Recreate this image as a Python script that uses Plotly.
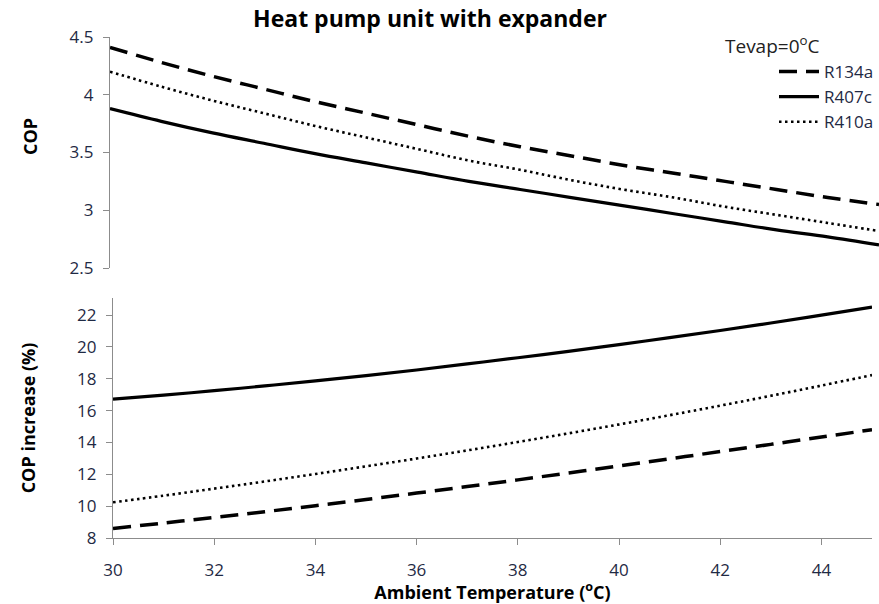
import plotly.graph_objects as go

W, H = 879, 604

temps = [30, 31, 32, 33, 34, 35, 36, 37, 38, 39, 40, 41, 42, 43, 44, 45]

cop_r134a = [4.41, 4.28, 4.16, 4.05, 3.94, 3.84, 3.74, 3.64, 3.55, 3.47, 3.39, 3.32, 3.25, 3.18, 3.11, 3.05]
cop_r407c = [3.88, 3.77, 3.67, 3.58, 3.49, 3.41, 3.33, 3.25, 3.18, 3.11, 3.04, 2.97, 2.90, 2.83, 2.77, 2.70]
cop_r410a = [4.20, 4.07, 3.95, 3.84, 3.73, 3.63, 3.53, 3.43, 3.35, 3.26, 3.18, 3.11, 3.03, 2.96, 2.89, 2.82]

inc_r134a = [8.60, 8.94, 9.29, 9.65, 10.03, 10.42, 10.82, 11.23, 11.65, 12.08, 12.52, 12.97, 13.43, 13.88, 14.34, 14.80]
inc_r407c = [16.72, 16.97, 17.25, 17.55, 17.87, 18.20, 18.55, 18.93, 19.32, 19.72, 20.14, 20.58, 21.03, 21.50, 21.99, 22.50]
inc_r410a = [10.24, 10.66, 11.10, 11.55, 12.02, 12.50, 12.99, 13.50, 14.03, 14.57, 15.13, 15.71, 16.31, 16.93, 17.57, 18.23]

names = ["R134a", "R407c", "R410a"]
dashes = ["18px,9px", "solid", "2.5px,3.5px"]
widths = [3.5, 3.2, 2.6]

FONT = "Open Sans"
TICKC = "#1f2a44"
AXC = "#8c8c8c"

fig = go.Figure()
for n, d, w, ys in zip(names, dashes, widths, [cop_r134a, cop_r407c, cop_r410a]):
    fig.add_trace(go.Scatter(x=temps, y=ys, mode="lines", name=n,
                             line=dict(color="black", width=w, dash=d, shape="spline"),
                             xaxis="x2", yaxis="y2", showlegend=True))
for n, d, w, ys in zip(names, dashes, widths, [inc_r134a, inc_r407c, inc_r410a]):
    fig.add_trace(go.Scatter(x=temps, y=ys, mode="lines", name=n,
                             line=dict(color="black", width=w, dash=d, shape="spline"),
                             xaxis="x", yaxis="y", showlegend=False))

def px_x(a, b):
    return [a / W, b / W]

def px_y(top, bottom):
    return [(H - bottom) / H, (H - top) / H]

fig.update_layout(
    width=W, height=H,
    margin=dict(l=0, r=0, t=0, b=0),
    plot_bgcolor="white", paper_bgcolor="white",
    font=dict(family=FONT, color=TICKC, size=15),
    title=dict(text="<b>Heat pump unit with expander</b>", x=430 / W, xanchor="center",
               y=1 - 19 / H, yanchor="middle",
               font=dict(family=FONT, size=23, color="black")),
    xaxis=dict(domain=px_x(113, 872), range=[30, 45], showline=True, linecolor=AXC, linewidth=1.3,
               ticks="outside", tickcolor=AXC, ticklen=6, tickvals=[30, 32, 34, 36, 38, 40, 42, 44],
               showgrid=False, zeroline=False, anchor="y", automargin=False,
               tickfont=dict(size=17, color=TICKC), ticklabelstandoff=10,
               title=dict(text="<b>Ambient Temperature (<sup>o</sup>C)</b>", standoff=6,
                          font=dict(size=18, color="black"))),
    yaxis=dict(domain=px_y(298, 538), range=[8, 23.07], showline=True, linecolor=AXC, linewidth=1.3,
               ticks="outside", tickcolor=AXC, ticklen=6, tickvals=[8, 10, 12, 14, 16, 18, 20, 22],
               showgrid=False, zeroline=False, anchor="x", automargin=False,
               tickfont=dict(size=17, color=TICKC), ticklabelstandoff=6,
               title=dict(text="<b>COP increase (%)</b>", standoff=36,
                          font=dict(size=18, color="black"))),
    xaxis2=dict(domain=px_x(110, 879), range=[30, 45], showline=False, showticklabels=False,
                ticks="", showgrid=False, zeroline=False, anchor="y2", automargin=False),
    yaxis2=dict(domain=px_y(37, 268), range=[2.5, 4.5], showline=True, linecolor=AXC, linewidth=1.3,
                ticks="outside", tickcolor=AXC, ticklen=6, tickvals=[2.5, 3, 3.5, 4, 4.5],
                ticktext=["2.5", "3", "3.5", "4", "4.5"],
                showgrid=False, zeroline=False, anchor="x2", automargin=False,
                tickfont=dict(size=17, color=TICKC), ticklabelstandoff=6),
    legend=dict(x=774 / W, y=1 - 54 / H, xanchor="left", yanchor="top",
                bgcolor="rgba(0,0,0,0)", font=dict(size=17, color=TICKC),
                tracegroupgap=0, itemwidth=40),
    annotations=[
        dict(text="Tevap=0<sup>o</sup>C", x=723 / W, y=1 - 45 / H, xref="paper", yref="paper",
             xanchor="left", yanchor="middle", showarrow=False,
             font=dict(size=19, color="#222")),
        dict(text="<b>COP</b>", x=30 / W, y=1 - 137 / H, xref="paper", yref="paper",
             xanchor="center", yanchor="middle", showarrow=False, textangle=-90,
             font=dict(size=18, color="black")),
    ],
)

fig.write_html("out.html")
